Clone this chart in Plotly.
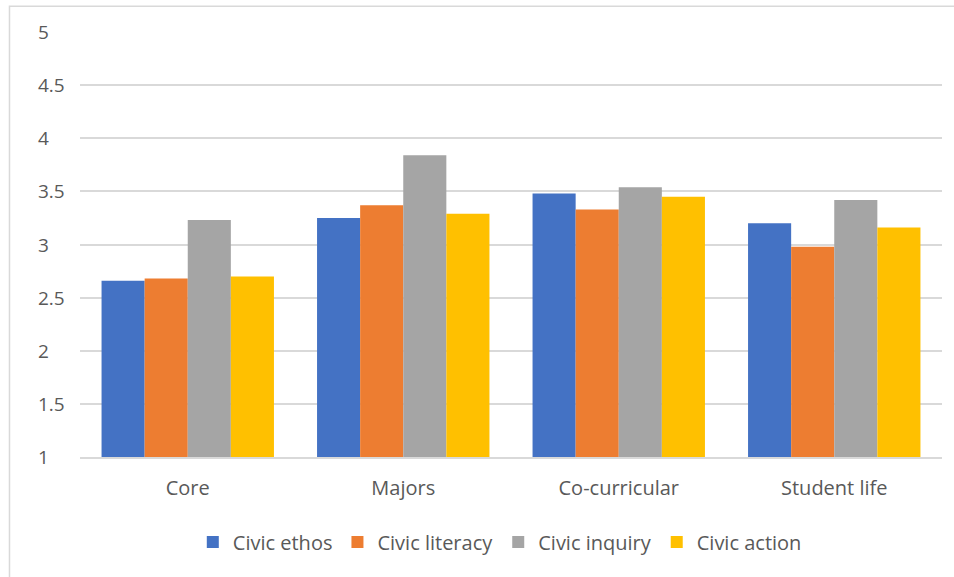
import plotly.graph_objects as go

categories = ["Core", "Majors", "Co-curricular", "Student life"]
civic_ethos = [2.66, 3.25, 3.48, 3.20]
civic_literacy = [2.68, 3.37, 3.33, 2.98]
civic_inquiry = [3.23, 3.84, 3.54, 3.42]
civic_action = [2.70, 3.29, 3.45, 3.16]
series_names = ["Civic ethos", "Civic literacy", "Civic inquiry", "Civic action"]
series_values = [civic_ethos, civic_literacy, civic_inquiry, civic_action]
colors = ["#4472C4", "#ED7D31", "#A5A5A5", "#FFC000"]
y_ticks = [1, 1.5, 2, 2.5, 3, 3.5, 4, 4.5, 5]
y_tick_labels = ["1", "1.5", "2", "2.5", "3", "3.5", "4", "4.5", "5"]

FONT = "Open Sans"
TXT = "#595959"

fig = go.Figure()
for name, vals, col in zip(series_names, series_values, colors):
    fig.add_trace(go.Bar(
        x=categories, y=vals, name=name,
        marker=dict(color=col, line=dict(width=0)),
    ))

annotations = []
for tv, tl in zip(y_ticks, y_tick_labels):
    annotations.append(dict(
        x=-0.051, xref="paper", y=tv, yref="y", text=tl, showarrow=False,
        xanchor="left", yanchor="middle",
        font=dict(family=FONT, size=19, color=TXT),
    ))

fig.update_layout(
    width=954, height=577,
    margin=dict(l=80, r=12, t=32, b=120),
    paper_bgcolor="white", plot_bgcolor="white",
    barmode="group", bargap=0.2, bargroupgap=0,
    font=dict(family=FONT, size=20, color=TXT),
    showlegend=True,
    legend=dict(
        orientation="h", x=0.487, xanchor="center", y=-0.2, yanchor="middle",
        font=dict(family=FONT, size=20, color=TXT),
        itemwidth=30, traceorder="normal",
    ),
    annotations=annotations,
    shapes=[dict(
        type="rect", xref="paper", yref="paper",
        x0=-0.0818, x1=1.03, y0=-0.35, y1=1.0607,
        line=dict(color="#D9D9D9", width=1.5), fillcolor="rgba(0,0,0,0)",
        layer="below",
    )],
)
fig.update_xaxes(
    showgrid=False, showline=True, linecolor="#D9D9D9", linewidth=1.5,
    ticks="", ticklabelstandoff=12,
    tickfont=dict(family=FONT, size=20, color=TXT),
)
fig.update_yaxes(
    range=[1, 5], tickvals=y_ticks, showticklabels=False,
    showgrid=True, gridcolor="#D9D9D9", gridwidth=1.5,
    zeroline=False, showline=False, ticks="",
)

fig.write_html("out.html")
